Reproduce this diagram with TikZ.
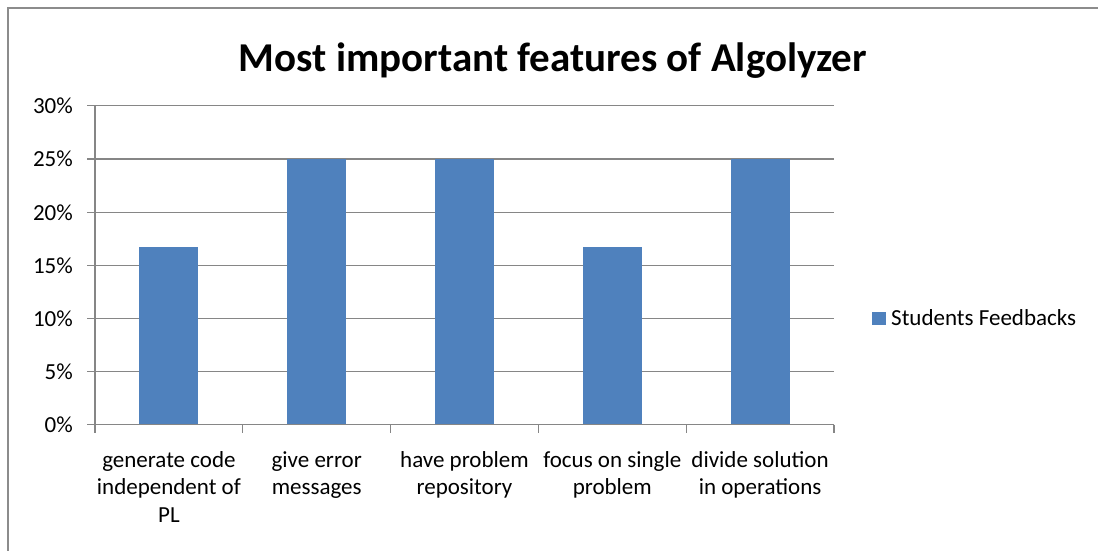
\documentclass[tikz,border=0pt]{standalone}
\usepackage{fontspec}
\setmainfont{Carlito}
\definecolor{barblue}{HTML}{4F81BD}
\definecolor{gridgray}{HTML}{868686}
\definecolor{framegray}{HTML}{8C8C8C}
\begin{document}
\begin{tikzpicture}[x=1pt,y=-1pt,
  grid/.style={draw=gridgray,line width=1.3pt},
  bar/.style={fill=barblue},
  ylab/.style={anchor=east,inner sep=0pt,font=\fontsize{23}{27.5}\selectfont},
  xlab/.style={anchor=north,inner sep=0pt,align=center,font=\fontsize{23}{27.5}\selectfont},
  frame/.style={draw=framegray,line width=2pt}]
\useasboundingbox (0,0) rectangle (1098,551);
\fill[white] (0,0) rectangle (1098,551);
\draw[frame] (1098,8) -- (8,8) -- (8,551);
% title
\node[anchor=base,inner sep=0pt,font=\fontsize{41}{48}\selectfont\bfseries] (title) at (553,72) {Most important features of Algolyzer};
% gridlines and y labels
\foreach \v/\y in {0/424.5,5/371.5,10/318.5,15/265.5,20/212.3,25/159,30/105.5}{
  \draw[grid] (87,\y) -- (834,\y);
  \node[ylab] (y\v) at (73,\y) {\v\%};
}
% bars
\foreach \c/\h in {168.9/247.3,316.7/159,464.5/159,612.3/247.3,760.1/159}{
  \fill[bar] (\c-29.5,\h) rectangle (\c+29.5,424.5);
}
% axes
\draw[grid] (95,105.5) -- (95,424.5);
\draw[grid] (87,424.5) -- (834,424.5);
\foreach \x in {95,242.8,390.6,538.4,686.2,834}{
  \draw[grid] (\x,424.5) -- (\x,432.5);
}
% category labels
\node[xlab] (c1) at (168.9,451) {generate code\\independent of\\PL};
\node[xlab] (c2) at (316.7,451) {give error\\messages};
\node[xlab] (c3) at (464.5,451) {have problem\\repository};
\node[xlab] (c4) at (612.3,451) {focus on single\\problem};
\node[xlab] (c5) at (760.1,451) {divide solution\\in operations};
% legend
\fill[bar] (872,311.5) rectangle (886,325);
\node[anchor=base west,inner sep=0pt,font=\fontsize{23}{27.5}\selectfont] (leg) at (891,325) {Students Feedbacks};
\end{tikzpicture}
\end{document}
